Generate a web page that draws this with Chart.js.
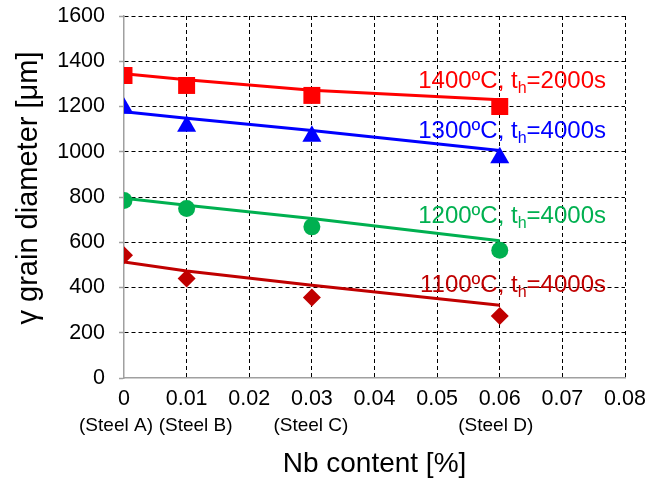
<!DOCTYPE html>
<html lang="en">
<head>
    <meta charset="UTF-8">
    <script src="https://cdn.jsdelivr.net/npm/chart.js"></script>
    <title>Grain size vs Nb</title>
    <style>
        body { margin: 0; background: #fff; }
        #caixa { width: 645px; height: 482px; position: relative; }
    </style>
</head>
<body>
<div id="caixa">
    <canvas id="graficoGrao"></canvas>
</div>
<script>
    // Nb content of each steel and measured gamma grain size
    var nbContent = [0, 0.01, 0.03, 0.06]
    var steelNames = ['(Steel A)', '(Steel B)', '(Steel C)', '(Steel D)']

    var grain1400 = [1337, 1293, 1249, 1200]
    var grain1300 = [1192, 1113, 1068, 974]
    var grain1200 = [785, 749, 668, 565]
    var grain1100 = [543, 440, 356, 274]

    // trend curves through each series
    var fit1400 = [1345, 1318, 1272, 1230]
    var fit1300 = [1177, 1148, 1094, 1006]
    var fit1200 = [795, 764, 705, 607]
    var fit1100 = [513, 473, 410, 322]

    var temps = ['1400ºC', '1300ºC', '1200ºC', '1100ºC']
    var holdTimes = ['2000s', '4000s', '4000s', '4000s']

    var xTicks = [0, 0.01, 0.02, 0.03, 0.04, 0.05, 0.06, 0.07, 0.08]
    var yTicks = [0, 200, 400, 600, 800, 1000, 1200, 1400, 1600]

    var cores = ['#FF0000', '#0000FF', '#00B050', '#C00000']
    var fonte = "'Liberation Sans', Arial, sans-serif"

    function pontos(valores) {
        var lista = []
        for (var i = 0; i < nbContent.length; i++) {
            lista.push({ x: nbContent[i], y: valores[i] })
        }
        return lista
    }

    function serieMarcador(valores, cor, estilo, raio) {
        return {
            data: pontos(valores),
            showLine: false,
            pointStyle: estilo,
            pointRadius: raio,
            pointHoverRadius: raio,
            backgroundColor: cor,
            borderColor: cor,
            borderWidth: 0,
            order: 1
        }
    }

    function serieLinha(valores, cor) {
        return {
            data: pontos(valores),
            showLine: true,
            pointRadius: 0,
            borderColor: cor,
            borderWidth: 3,
            fill: false,
            order: 2
        }
    }

    // labels, subtitles and axis titles drawn by hand
    var textos = {
        id: 'textos',
        afterDraw(chart) {
            var ctx = chart.ctx
            var area = chart.chartArea
            var sx = chart.scales.x
            ctx.save()
            ctx.fillStyle = '#000'

            // steel names under the tick labels
            var desvio = [-8, 9, -1, -4]
            ctx.font = '19px ' + fonte
            ctx.textAlign = 'center'
            ctx.textBaseline = 'middle'
            for (var i = 0; i < steelNames.length; i++) {
                ctx.fillText(steelNames[i], sx.getPixelForValue(nbContent[i]) + desvio[i], 426)
            }

            // axis titles
            ctx.font = '28px ' + fonte
            ctx.fillText('Nb content [%]', (area.left + area.right) / 2, 464)
            ctx.save()
            ctx.translate(29, 188)
            ctx.rotate(-Math.PI / 2)
            ctx.font = '29px ' + fonte
            ctx.fillText('γ grain diameter [μm]', 0, 0)
            ctx.restore()

            // series labels with subscript h
            var linhaBase = [88, 138, 223, 292]
            var direita = 606
            for (var j = 0; j < temps.length; j++) {
                var p1 = temps[j] + ', t'
                var p2 = 'h'
                var p3 = '=' + holdTimes[j]
                ctx.font = '24px ' + fonte
                var w1 = ctx.measureText(p1).width
                var w3 = ctx.measureText(p3).width
                ctx.font = '16px ' + fonte
                var w2 = ctx.measureText(p2).width
                var x0 = direita - w1 - w2 - w3
                ctx.fillStyle = cores[j]
                ctx.textAlign = 'left'
                ctx.textBaseline = 'alphabetic'
                ctx.font = '24px ' + fonte
                ctx.fillText(p1, x0, linhaBase[j])
                ctx.fillText(p3, x0 + w1 + w2, linhaBase[j])
                ctx.font = '16px ' + fonte
                ctx.fillText(p2, x0 + w1, linhaBase[j] + 5)
            }
            ctx.restore()
        }
    }

    function corGrade(ctx) {
        if (ctx.tick && ctx.tick.value === 0) return 'rgba(0,0,0,0)'
        return '#000'
    }

    new Chart(graficoGrao, {
        type: 'scatter',
        data: {
            datasets: [
                serieLinha(fit1400, cores[0]),
                serieLinha(fit1300, cores[1]),
                serieLinha(fit1200, cores[2]),
                serieLinha(fit1100, cores[3]),
                serieMarcador(grain1400, cores[0], 'rect', 12),
                serieMarcador(grain1300, cores[1], 'triangle', 11),
                serieMarcador(grain1200, cores[2], 'circle', 8.5),
                serieMarcador(grain1100, cores[3], 'rectRot', 9)
            ]
        },
        options: {
            responsive: true,
            maintainAspectRatio: false,
            animation: false,
            layout: {
                padding: { top: 16, right: 20, left: 0, bottom: 0 }
            },
            plugins: {
                legend: { display: false },
                tooltip: { enabled: false }
            },
            scales: {
                x: {
                    type: 'linear',
                    min: 0,
                    max: 0.08,
                    afterBuildTicks: function (scale) {
                        scale.ticks = xTicks.map(function (v) { return { value: v } })
                    },
                    afterFit: function (scale) {
                        scale.height = 104
                        scale.paddingLeft = 0
                        scale.paddingRight = 0
                    },
                    ticks: {
                        color: '#000',
                        padding: 8,
                        maxRotation: 0,
                        font: { size: 21.5, family: fonte },
                        callback: function (v) { return String(+v.toFixed(2)) }
                    },
                    grid: {
                        color: corGrade,
                        lineWidth: 1,
                        drawTicks: false
                    },
                    border: {
                        display: true,
                        color: '#A0A0A0',
                        width: 1.5,
                        dash: [4, 3]
                    }
                },
                y: {
                    min: 0,
                    max: 1600,
                    afterBuildTicks: function (scale) {
                        scale.ticks = yTicks.map(function (v) { return { value: v } })
                    },
                    afterFit: function (scale) {
                        scale.width = 124
                        scale.paddingTop = 0
                        scale.paddingBottom = 0
                    },
                    ticks: {
                        color: '#000',
                        padding: 14,
                        font: { size: 21.5, family: fonte },
                        callback: function (v) { return String(v) }
                    },
                    grid: {
                        color: corGrade,
                        lineWidth: 1,
                        drawTicks: true,
                        tickLength: 5,
                        tickColor: '#A0A0A0',
                        tickWidth: 1.5
                    },
                    border: {
                        display: true,
                        color: '#A0A0A0',
                        width: 1.5,
                        dash: [4, 3]
                    }
                }
            }
        },
        plugins: [textos]
    })
</script>
</body>
</html>
